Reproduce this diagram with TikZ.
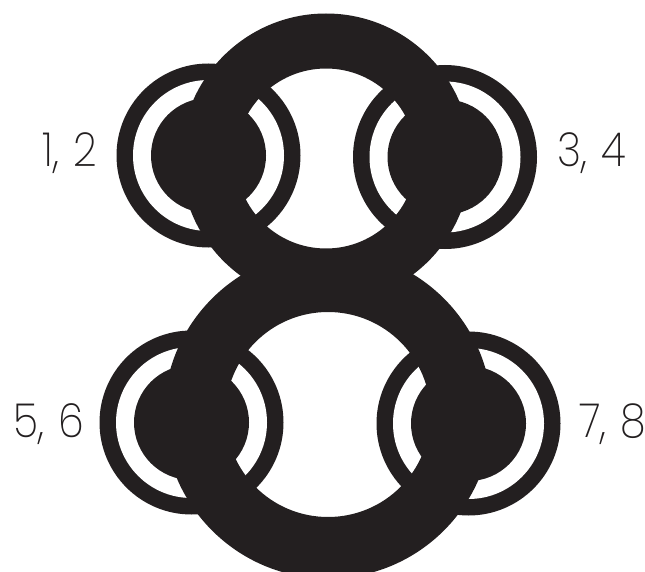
\documentclass[tikz,border=0pt]{standalone}
\usepackage{fontspec}
\newfontfamily\pinfont[FakeStretch=0.88, WordSpace=1.2]{Poppins ExtraLight}
\usepackage{tikz}
\definecolor{ink}{HTML}{231F20}

\begin{document}
\begin{tikzpicture}[x=1pt, y=-1pt, font=\pinfont\fontsize{47}{47}\selectfont,
  pinlabel/.style={text=ink, inner sep=0pt}]
  \useasboundingbox (0,0) rectangle (645,572);
  % small rings with their plugs
  \foreach \cx/\cy in {208.5/155.5, 445/157, 191.5/422.5, 468.5/423.5} {
    \fill[ink] (\cx,\cy) circle [radius=92];
    \fill[white] (\cx,\cy) circle [radius=75.5];
    \fill[ink] (\cx,\cy) circle [radius=57.5];
  }
  % the two big rings of the eight
  \fill[ink, even odd rule] (326,158.5) circle [radius=145] (326,158.5) circle [radius=90];
  \fill[ink, even odd rule] (328,414.5) circle [radius=164] (328,414.5) circle [radius=102.5];
  \node[pinlabel, anchor=base east] (p12) at (97,167) {1, 2};
  \node[pinlabel, anchor=base west] (p34) at (557,167) {3, 4};
  \node[pinlabel, anchor=base east] (p56) at (84,437) {5, 6};
  \node[pinlabel, anchor=base west] (p78) at (579,437) {7, 8};
\end{tikzpicture}
\end{document}
